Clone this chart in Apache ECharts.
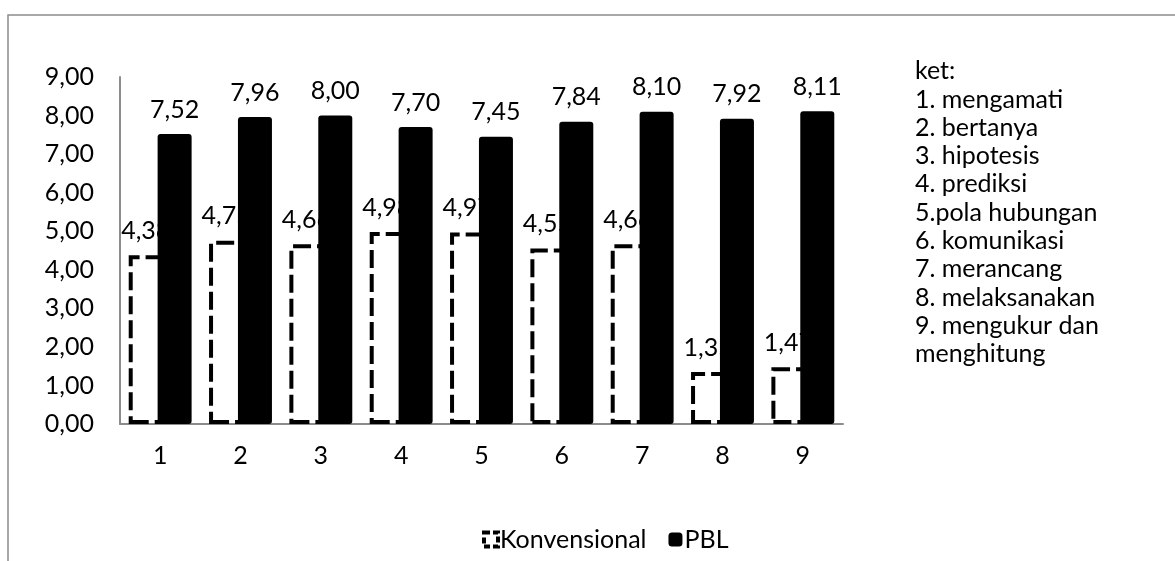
<!DOCTYPE html>
<html>
<head>
<meta charset="utf-8">
<script src="https://cdn.jsdelivr.net/npm/echarts@6/dist/echarts.min.js"></script>
<style>html,body{margin:0;padding:0;background:#fff}#c{width:1175px;height:561px}</style>
</head>
<body>
<div id="c"></div>
<script>
var categories = ['1','2','3','4','5','6','7','8','9'];
var konvensional = [4.38, 4.75, 4.66, 4.98, 4.97, 4.55, 4.66, 1.35, 1.47];
var pbl = [7.52, 7.96, 8.00, 7.70, 7.45, 7.84, 8.10, 7.92, 8.11];
var seriesNames = ['Konvensional', 'PBL'];
var ketLines = ['ket:', '1. mengamati', '2. bertanya', '3. hipotesis', '4. prediksi', '5.pola hubungan', '6. komunikasi', '7. merancang', '8. melaksanakan', '9. mengukur dan', 'menghitung'];

var FONT = 'Lato';
var FS = 25;
function fmt(v){ return Number(v).toFixed(2).replace('.', ','); }

var chart = echarts.init(document.getElementById('c'));
chart.setOption({
  animation: false,
  backgroundColor: '#fff',
  textStyle: { fontFamily: FONT },
  grid: { left: 120, right: 332, top: 77, bottom: 137, containLabel: false },
  xAxis: {
    type: 'category',
    data: categories,
    axisLine: { lineStyle: { color: '#8c8c8c', width: 2 } },
    axisTick: { show: false },
    axisLabel: { color: '#000', fontSize: FS, fontFamily: FONT, margin: 19 }
  },
  yAxis: {
    type: 'value',
    min: 0, max: 9, interval: 1,
    splitLine: { show: false },
    axisLine: { show: true, lineStyle: { color: '#8c8c8c', width: 2 } },
    axisTick: { show: false },
    axisLabel: { color: '#000', fontSize: FS, fontFamily: FONT, margin: 26, formatter: fmt }
  },
  legend: {
    left: 477, top: 522,
    itemWidth: 14, itemHeight: 14, itemGap: 22,
    textStyle: { color: '#000', fontSize: FS, fontFamily: FONT, padding: [0,0,0,-3] },
    data: [
      { name: seriesNames[0], icon: 'rect', itemStyle: { color: '#fff', borderColor: '#000', borderWidth: 4, borderType: [6,3] } },
      { name: seriesNames[1], icon: 'roundRect' }
    ]
  },
  series: [
    {
      name: seriesNames[0], type: 'bar', data: konvensional, z: 2,
      barWidth: 34, barGap: '-15%',
      itemStyle: { color: '#fff', borderColor: '#000', borderWidth: 4, borderType: [18, 6] },
      label: { show: true, position: 'top', distance: 12, color: '#000', fontSize: FS, fontFamily: FONT, formatter: function(p){ return fmt(p.value); } }
    },
    {
      name: seriesNames[1], type: 'bar', data: pbl, z: 3,
      barWidth: 34,
      itemStyle: { color: '#000', borderRadius: 3 },
      label: { show: true, position: 'top', distance: 12, color: '#000', fontSize: FS, fontFamily: FONT, formatter: function(p){ return fmt(p.value); } }
    }
  ],
  graphic: [
    { type: 'rect', shape: { x: 8, y: 15, width: 1300, height: 700 }, style: { fill: 'none', stroke: '#8c8c8c', lineWidth: 1.5 }, silent: true },
    { type: 'text', left: 915, top: 57, style: { text: ketLines.join('\n'), fill: '#000', font: FS + 'px ' + FONT, lineHeight: 28.3 } }
  ]
});
</script>
</body>
</html>
